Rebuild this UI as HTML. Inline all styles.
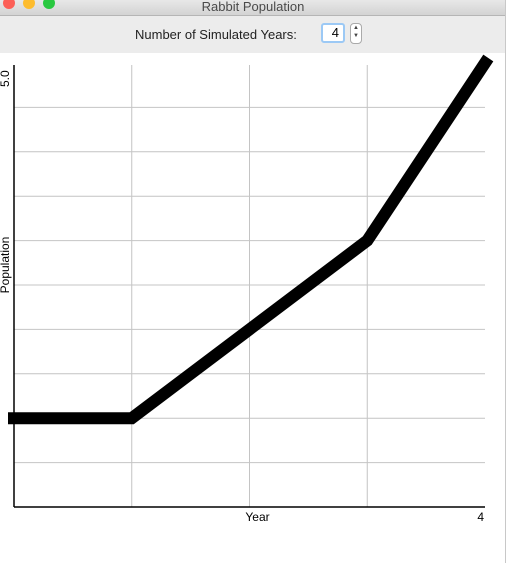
<!DOCTYPE html>
<html><head><meta charset="utf-8"><style>
body{margin:0;width:510px;height:563px;overflow:hidden;background:#fff;font-family:"Liberation Sans",sans-serif;position:relative}
#titlebar{position:absolute;left:0;top:0;width:506px;height:15px;background:linear-gradient(#e8e8e8,#d3d3d3);border-bottom:1px solid #b5b5b5;text-align:center;font-size:13px;line-height:13px;color:#4a4a4a}
.dot{position:absolute;top:-3px;width:12px;height:12px;border-radius:50%}
#toolbar{position:absolute;left:0;top:16px;width:506px;height:37px;background:#ececec}
#edge{position:absolute;left:505px;top:0;width:1px;height:563px;background:#c8c8c8}
</style></head><body>
<div id="titlebar">
<div class="dot" style="left:3px;background:#fc5f57"></div>
<div class="dot" style="left:23px;background:#fdbc2e"></div>
<div class="dot" style="left:43px;background:#29c840"></div>
<span>Rabbit Population</span>
</div>
<div id="toolbar">
<span style="position:absolute;left:135px;top:11px;font-size:13px;color:#222">Number of Simulated Years:</span>
<div style="position:absolute;left:321px;top:7px;width:24px;height:20px;border:2px solid #9cc9f5;border-radius:3px;background:#fff;box-sizing:border-box;text-align:right;padding-right:4px;font-size:13px;line-height:16px">4</div>
<div style="position:absolute;left:350px;top:7px;width:12px;height:21px;border:1px solid #aaa;border-radius:4px;background:#fff;box-sizing:border-box;font-size:6px;text-align:center;line-height:8px;color:#444">▲<br>▼</div>
</div>
<div id="edge"></div>
<svg id="chart" width="510" height="563" style="position:absolute;left:0;top:0"></svg>
<script>
const years=[0,1,2,3,4];
const population=[1,1,2,3,5];
const yMax=5;
const xTickLabels=["Year","4"];
const svg=document.getElementById('chart');
const NS='http://www.w3.org/2000/svg';
const L=14,R=485,T=63,B=507;
const xs=v=>L+(v-years[0])/(years[years.length-1]-years[0])*(R-L);
const ys=v=>B-v/yMax*(B-T);
function mk(t,a){const e=document.createElementNS(NS,t);for(const k in a)e.setAttribute(k,a[k]);svg.appendChild(e);return e;}
for(let v=0.5;v<yMax-1e-9;v+=0.5){const g=mk('line',{x1:L,x2:R,y1:ys(v),y2:ys(v),stroke:'#c4c4c4','stroke-width':1});

}
for(let i=1;i<years.length-1;i++){const g=mk('line',{x1:xs(years[i]),x2:xs(years[i]),y1:T+2,y2:B,stroke:'#c4c4c4','stroke-width':1});

}
const ya=mk('line',{x1:L,x2:L,y1:T+2,y2:B,stroke:'#000','stroke-width':1.5});


const xa=mk('line',{x1:L,x2:R,y1:B,y2:B,stroke:'#000','stroke-width':1.5});


const pts=years.map((y,i)=>xs(y)+','+ys(population[i])).join(' ');
const pl=mk('polyline',{points:pts,fill:'none',stroke:'#000','stroke-width':12,'stroke-linecap':'square','stroke-linejoin':'miter'});


const xt=mk('text',{x:(L+R)/2+8,y:B+14,'text-anchor':'middle','font-size':12,'font-family':'Liberation Sans, sans-serif'});xt.textContent=xTickLabels[0];


const xm=mk('text',{x:R-1,y:B+14,'text-anchor':'end','font-size':12,'font-family':'Liberation Sans, sans-serif'});xm.textContent=xTickLabels[1];


const ym=mk('text',{x:0,y:0,'font-size':12,'font-family':'Liberation Sans, sans-serif',transform:'translate(9,'+(T+24)+') rotate(-90)'});ym.textContent=yMax.toFixed(1);


const yt=mk('text',{x:0,y:0,'font-size':12,'text-anchor':'middle','font-family':'Liberation Sans, sans-serif',transform:'translate(9,'+((T+B)/2-20)+') rotate(-90)'});yt.textContent='Population';


</script>
</body></html>
